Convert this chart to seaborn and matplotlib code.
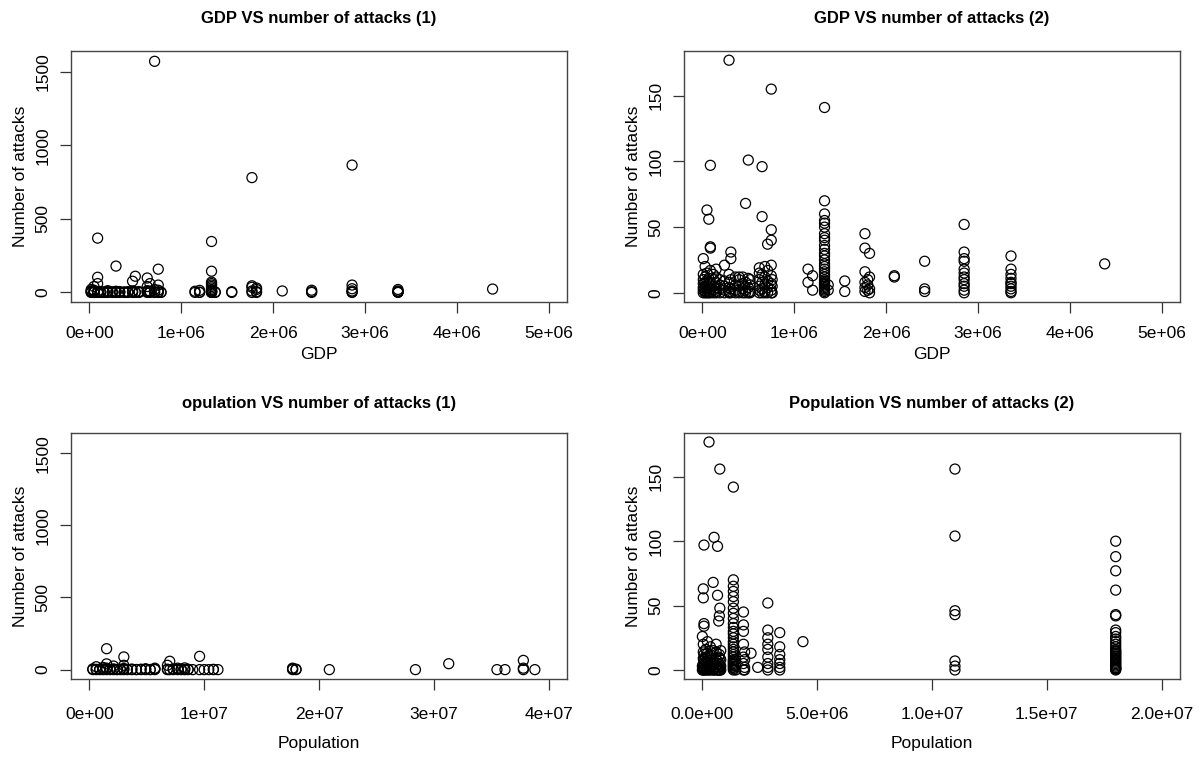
import numpy as np
import pandas as pd
import seaborn as sns
import matplotlib
matplotlib.use('Agg')
import matplotlib.pyplot as plt

# ---- data ----
# panel 1: GDP vs number of attacks (1)
gdp_1 = ([0.02e6]*5 + [0.05e6]*5 + [0.09e6]*6 + [0.12e6]*3 + [0.16e6]*3 + [0.20e6]*4
         + [0.25e6]*3 + [0.29e6]*4 + [0.33e6]*3 + [0.38e6]*3 + [0.42e6]*3 + [0.47e6]*4
         + [0.50e6]*3 + [0.54e6]*3 + [0.63e6]*5 + [0.66e6]*4 + [0.71e6]*4 + [0.75e6]*5
         + [0.78e6]*2 + [1.15e6]*2 + [1.20e6]*3 + [1.33e6]*16 + [1.37e6]*2 + [1.55e6]*2
         + [1.77e6]*5 + [1.82e6]*4 + [2.10e6] + [2.42e6]*3 + [2.86e6]*6 + [3.36e6]*5 + [4.39e6])
attacks_1 = ([0, 2, 5, 10, 20] + [0, 3, 8, 15, 40] + [0, 1, 4, 60, 103, 369] + [0, 2, 6] + [0, 1, 3]
             + [0, 2, 5, 12] + [0, 1, 4] + [0, 3, 8, 179] + [0, 2, 6] + [0, 1, 3] + [0, 2, 5]
             + [0, 4, 10, 76] + [0, 3, 110] + [0, 2, 6] + [0, 5, 12, 40, 98] + [0, 2, 8, 60]
             + [0, 3, 20, 1570] + [0, 4, 15, 50, 158] + [0, 2] + [0, 8] + [0, 2, 14]
             + [0, 1, 2, 3, 5, 8, 10, 15, 20, 30, 40, 50, 60, 70, 144, 346] + [0, 3] + [0, 5]
             + [0, 10, 35, 45, 780] + [0, 5, 20, 30] + [10] + [0, 5, 15] + [0, 3, 10, 25, 50, 865]
             + [0, 2, 5, 10, 20] + [23])

# panel 2: GDP vs number of attacks (2)
gdp_2 = ([0.01e6]*7 + [0.03e6]*7 + [0.05e6]*6 + [0.07e6]*6 + [0.087e6]*7 + [0.12e6]*5
         + [0.15e6]*6 + [0.19e6]*4 + [0.24e6]*5 + [0.29e6]*6 + [0.31e6]*5 + [0.36e6]*4
         + [0.40e6]*5 + [0.44e6]*4 + [0.47e6]*4 + [0.50e6]*4 + [0.52e6]*4 + [0.62e6]*6
         + [0.65e6]*6 + [0.68e6]*5 + [0.71e6]*5 + [0.75e6]*8 + [0.76e6]*3 + [1.15e6]*2
         + [1.20e6]*2 + [1.33e6]*31 + [1.37e6]*2 + [1.55e6]*2 + [1.77e6]*6 + [1.80e6]*3
         + [1.82e6]*4 + [2.09e6]*2 + [2.42e6]*3 + [2.85e6]*12 + [3.36e6]*10 + [4.38e6])
attacks_2 = ([0, 2, 4, 7, 10, 14, 26] + [0, 1, 3, 5, 8, 12, 20] + [0, 2, 6, 9, 15, 63]
             + [0, 1, 4, 7, 11, 56] + [0, 3, 8, 17, 34, 35, 97] + [0, 2, 5, 10, 14]
             + [0, 1, 4, 8, 12, 18] + [0, 3, 6, 10] + [0, 2, 5, 9, 21] + [0, 1, 4, 8, 14, 177]
             + [0, 3, 10, 26, 31] + [0, 2, 6, 12] + [0, 1, 5, 10, 12] + [0, 3, 7, 12]
             + [0, 2, 8, 68] + [0, 4, 11, 101] + [0, 1, 6, 10] + [0, 2, 5, 10, 15, 19]
             + [0, 3, 8, 14, 58, 96] + [0, 1, 6, 12, 20] + [0, 4, 9, 17, 37]
             + [0, 2, 7, 13, 21, 40, 48, 155] + [0, 5, 10] + [8, 18] + [2, 13]
             + [0, 1, 2, 3, 4, 5, 6, 7, 8, 9, 10, 12, 14, 16, 18, 20, 22, 25, 28, 30, 33, 36,
                40, 42, 45, 50, 53, 55, 60, 70, 141]
             + [2, 6] + [1, 9] + [1, 4, 8, 16, 34, 45] + [2, 6, 10] + [0, 3, 12, 30] + [12, 13]
             + [1, 3, 24] + [0, 2, 5, 7, 10, 12, 15, 18, 24, 26, 31, 52]
             + [0, 1, 3, 5, 7, 8, 11, 14, 18, 28] + [22])

# panel 3: population vs number of attacks (1)
pop_1 = ([0.3e6]*2 + [0.6e6]*3 + [0.9e6]*2 + [1.2e6]*3 + [1.5e6]*4 + [1.8e6]*2 + [2.1e6]*3
         + [2.4e6]*2 + [2.7e6]*2 + [3.0e6]*4 + [3.3e6]*2 + [3.7e6]*2 + [4.1e6]*2 + [4.5e6]*2
         + [4.9e6]*3 + [5.3e6]*2 + [5.7e6]*3 + [6.8e6]*3 + [7.0e6]*2 + [7.3e6]*2 + [7.7e6]*3
         + [8.0e6]*2 + [8.3e6]*3 + [8.6e6]*2 + [9.0e6] + [9.6e6]*2 + [10.0e6] + [10.4e6]
         + [10.8e6]*2 + [11.2e6] + [17.7e6]*3 + [18.0e6]*2 + [20.9e6] + [28.4e6] + [31.3e6]
         + [35.5e6] + [36.2e6] + [37.8e6]*3 + [38.8e6])
attacks_p1 = ([0, 5] + [0, 2, 20] + [0, 3] + [0, 4, 15] + [0, 10, 40, 145] + [0, 2] + [0, 5, 25]
              + [0, 1] + [0, 3] + [0, 8, 30, 88] + [0, 2] + [0, 4] + [0, 1] + [0, 3] + [0, 2, 6]
              + [0, 1] + [0, 4, 10] + [0, 3, 30] + [0, 58] + [0, 5] + [0, 2, 10] + [0, 4]
              + [0, 1, 12] + [0, 3] + [0] + [0, 92] + [0] + [0] + [0, 2] + [0] + [0, 5, 10]
              + [0, 3] + [0] + [0] + [41] + [0] + [0] + [0, 10, 64] + [0])

# panel 4: population vs number of attacks (2)
pop_2 = ([0.0e6]*3 + [0.04e6]*8 + [0.07e6]*8 + [0.15e6]*5 + [0.22e6]*6 + [0.29e6]*5
         + [0.35e6]*5 + [0.47e6]*5 + [0.51e6]*4 + [0.60e6]*5 + [0.66e6]*5 + [0.71e6]*4
         + [0.74e6]*4 + [0.76e6]*5 + [0.80e6]*4 + [1.35e6]*30 + [1.45e6]*3 + [1.79e6]*7
         + [1.84e6]*4 + [2.12e6] + [2.41e6] + [2.85e6]*9 + [3.37e6]*7 + [4.38e6]
         + [11.0e6]*7 + [18.0e6]*32)
attacks_p2 = ([0, 3, 26] + [0, 2, 5, 9, 14, 20, 56, 63] + [0, 1, 4, 8, 12, 34, 36, 97]
              + [0, 2, 6, 10, 16] + [0, 1, 5, 9, 13, 22] + [0, 3, 7, 11, 177] + [0, 2, 6, 12, 18]
              + [0, 4, 9, 15, 68] + [0, 1, 6, 103] + [0, 3, 8, 14, 20] + [0, 2, 7, 58, 96]
              + [0, 5, 10, 38] + [0, 2, 12, 42] + [0, 4, 9, 48, 156] + [0, 3, 8, 15]
              + [0, 1, 2, 3, 4, 5, 6, 7, 8, 10, 12, 14, 16, 18, 20, 22, 25, 28, 30, 33, 36, 40,
                 44, 48, 53, 57, 61, 65, 70, 142]
              + [0, 3, 8] + [0, 5, 10, 20, 30, 35, 45] + [0, 2, 8, 14] + [13] + [2]
              + [0, 2, 5, 10, 16, 20, 25, 31, 52] + [0, 2, 5, 8, 12, 18, 29] + [22]
              + [0, 3, 7, 43, 46, 104, 156]
              + [0, 0.5, 1, 1.5, 2, 3, 4, 5, 6, 7, 8, 9, 10, 11, 12, 13, 14, 15, 16, 18, 20, 22,
                 24, 26, 29, 31, 42, 43, 62, 77, 88, 100])

titles = ['GDP VS number of attacks (1)', 'GDP VS number of attacks (2)',
          'opulation VS number of attacks (1)', 'Population VS number of attacks (2)']
gdp_ticks = [0, 1e6, 2e6, 3e6, 4e6, 5e6]
gdp_ticklabels = ['0e+00', '1e+06', '2e+06', '3e+06', '4e+06', '5e+06']
pop1_ticks = [0, 1e7, 2e7, 3e7, 4e7]
pop1_ticklabels = ['0e+00', '1e+07', '2e+07', '3e+07', '4e+07']
pop2_ticks = [0, 5e6, 1e7, 1.5e7, 2e7]
pop2_ticklabels = ['0.0e+00', '5.0e+06', '1.0e+07', '1.5e+07', '2.0e+07']
y1_ticks = [0, 500, 1000, 1500]
y2_ticks = [0, 50, 100, 150]

sns.set_style('ticks')
plt.rcParams['font.family'] = ['Liberation Sans', 'DejaVu Sans']
plt.rcParams['text.color'] = 'black'
plt.rcParams['axes.labelcolor'] = 'black'
plt.rcParams['xtick.color'] = 'black'
plt.rcParams['ytick.color'] = 'black'

W, H = 1199, 760
fig = plt.figure(figsize=(W/100, H/100), dpi=100)

def panel(left, top, right, bottom):
    return fig.add_axes([left/W, 1-bottom/H, (right-left)/W, (bottom-top)/H])

axes = [panel(71, 51, 567, 302), panel(684, 51, 1180, 302),
        panel(71, 433, 567, 679), panel(684, 433, 1180, 679)]

xs = [gdp_1, gdp_2, pop_1, pop_2]
ys = [attacks_1, attacks_2, attacks_p1, attacks_p2]
xlabels = ['GDP', 'GDP', 'Population', 'Population']
xticks = [gdp_ticks, gdp_ticks, pop1_ticks, pop2_ticks]
xticklabels = [gdp_ticklabels, gdp_ticklabels, pop1_ticklabels, pop2_ticklabels]
yticks = [y1_ticks, y2_ticks, y1_ticks, y2_ticks]
xlims = [(-0.2e6, 5.2e6), (-0.2e6, 5.2e6), (-0.16e7, 4.16e7), (-0.8e6, 20.8e6)]
ylims = [(-65, 1640), (-7, 184), (-65, 1640), (-7, 184)]

for i, ax in enumerate(axes):
    sns.scatterplot(x=xs[i], y=ys[i], ax=ax, marker='o', s=52,
                    facecolor='none', edgecolor='black', linewidth=0.9)
    ax.set_xlim(xlims[i])
    ax.set_ylim(ylims[i])
    ax.set_xticks(xticks[i])
    ax.set_xticklabels(xticklabels[i])
    ax.set_yticks(yticks[i])
    ax.set_yticklabels([str(t) for t in yticks[i]], rotation=90, va='center')
    ax.tick_params(direction='out', length=8, width=0.9, color='#333333',
                   labelsize=12.5, labelcolor='black')
    ax.tick_params(axis='x', pad=9 if i < 2 else 12)
    ax.tick_params(axis='y', pad=7)
    for sp in ax.spines.values():
        sp.set_visible(True)
        sp.set_color('#444444')
        sp.set_linewidth(1.0)
    ax.set_xlabel(xlabels[i], fontsize=12.5)
    ax.set_ylabel('Number of attacks', fontsize=12.5)
    ax.yaxis.set_label_coords(-0.087, 0.5)
    if i < 2:
        ax.xaxis.set_label_coords(0.5, -0.18)
        ax.set_title(titles[i], fontsize=12, fontweight='bold', pad=20)
    else:
        ax.xaxis.set_label_coords(0.5, -0.23)
        ax.set_title(titles[i], fontsize=12, fontweight='bold', pad=18)

fig.savefig('out.png', dpi=100)
